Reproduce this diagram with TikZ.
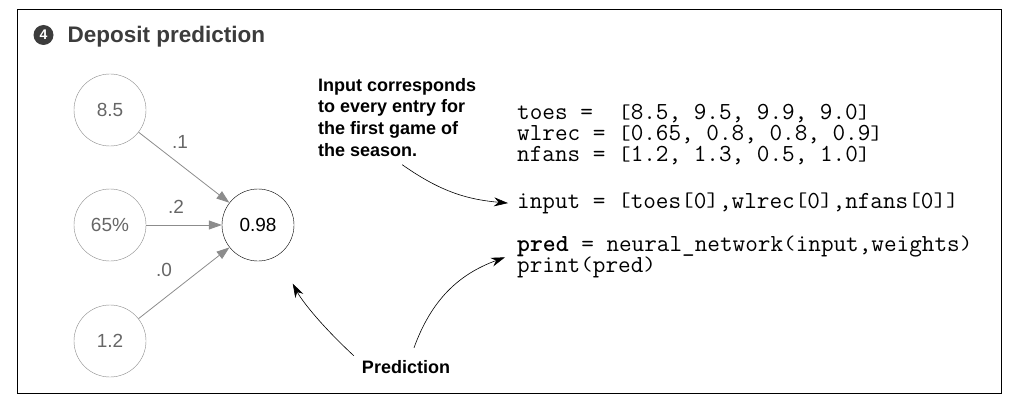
\documentclass[tikz,border=0pt]{standalone}
\usepackage{fontspec}
\setmainfont{Liberation Sans}
\usetikzlibrary{arrows.meta}

\definecolor{ringgray}{HTML}{8C8C8C}
\definecolor{labelgray}{HTML}{666666}
\definecolor{titlegray}{HTML}{3C3C3C}

% shorter brackets and parentheses, as in the code font of the figure
\newcommand{\sq}[1]{\raisebox{0.05em}{\scalebox{1}[0.8]{#1}}}

\begin{document}
\begin{tikzpicture}[
        x=1pt, y=1pt,
        inputnode/.style={circle, draw=ringgray, text=labelgray, minimum size=72pt, inner sep=0pt, font=\fontsize{19}{22}\selectfont},
        outputnode/.style={circle, draw=black, text=black, minimum size=72pt, inner sep=0pt, font=\fontsize{19}{22}\selectfont},
        weight/.style={text=labelgray, font=\fontsize{19}{22}\selectfont},
        synapse/.style={-{Triangle[length=13pt,width=9pt]}, ringgray, line width=0.8pt},
        callout/.style={-{Stealth[length=14pt,width=9pt]}, black, line width=0.6pt},
        note/.style={font=\bfseries\fontsize{18}{21.7}\selectfont, align=left, inner sep=0pt},
        code/.style={font=\ttfamily\fontsize{24.5}{21}\selectfont, inner sep=0pt, anchor=base west}
    ]
    \useasboundingbox (0,0) rectangle (1031,-409);
    \draw[line width=0.8pt] (17,-9.5) rectangle (1001,-393.5);

    % Title
    \node[circle, fill=titlegray, text=white, minimum size=20pt, inner sep=0pt, font=\bfseries\fontsize{14}{14}\selectfont] (badge) at (43.5,-35) {4};
    \node[anchor=base west, inner sep=0pt, text=titlegray, font=\bfseries\fontsize{22.5}{26}\selectfont] (title) at (67.5,-43) {Deposit prediction};

    % Network
    \node[inputnode] (toes) at (110,-110) {8.5};
    \node[inputnode] (wlrec) at (110,-225) {65\%};
    \node[inputnode] (nfans) at (110,-341) {1.2};
    \node[outputnode] (pred) at (258,-225) {0.98};
    \draw[synapse] (toes) -- (pred);
    \draw[synapse] (wlrec) -- (pred);
    \draw[synapse] (nfans) -- (pred);
    \node[weight] (w1) at (180,-142) {.1};
    \node[weight] (w2) at (176,-207) {.2};
    \node[weight] (w3) at (164,-270) {.0};

    % Code
    \node[code] (toesline) at (517,-120) {toes =~~\sq{[}8.5, 9.5, 9.9, 9.0\sq{]}};
    \node[code] (wlrecline) at (517,-141) {wlrec = \sq{[}0.65, 0.8, 0.8, 0.9\sq{]}};
    \node[code] (nfansline) at (517,-162) {nfans = \sq{[}1.2, 1.3, 0.5, 1.0\sq{]}};
    \node[code] (inputline) at (517,-208) {input = \sq{[}toes\sq{[}0\sq{]},wlrec\sq{[}0\sq{]},nfans\sq{[}0\sq{]}\sq{]}};
    \node[code] (predline) at (517,-251) {\textbf{pred} = neural\_network\sq{(}input,weights\sq{)}};
    \node[code] (printline) at (517,-272) {print\sq{(}pred\sq{)}};

    % Callouts
    \node[note, anchor=north west] (hint) at (318,-78) {Input corresponds\\to every entry for\\the first game of\\the season.};
    \node[note, anchor=base] (predlabel) at (406,-373) {Prediction};
    \draw[callout] ([xshift=5pt,yshift=-8pt]hint.south) to[out=-35,in=175] ([xshift=-9pt]inputline.west);
    \draw[callout, shorten >=32pt] ([xshift=-8pt,yshift=4pt]predlabel.north west) to[out=137,in=-62] (pred.-57);
    \draw[callout] ([xshift=8pt,yshift=12pt]predlabel.north) to[out=70,in=200] ([xshift=-12pt,yshift=-11pt]predline.west);
\end{tikzpicture}
\end{document}
